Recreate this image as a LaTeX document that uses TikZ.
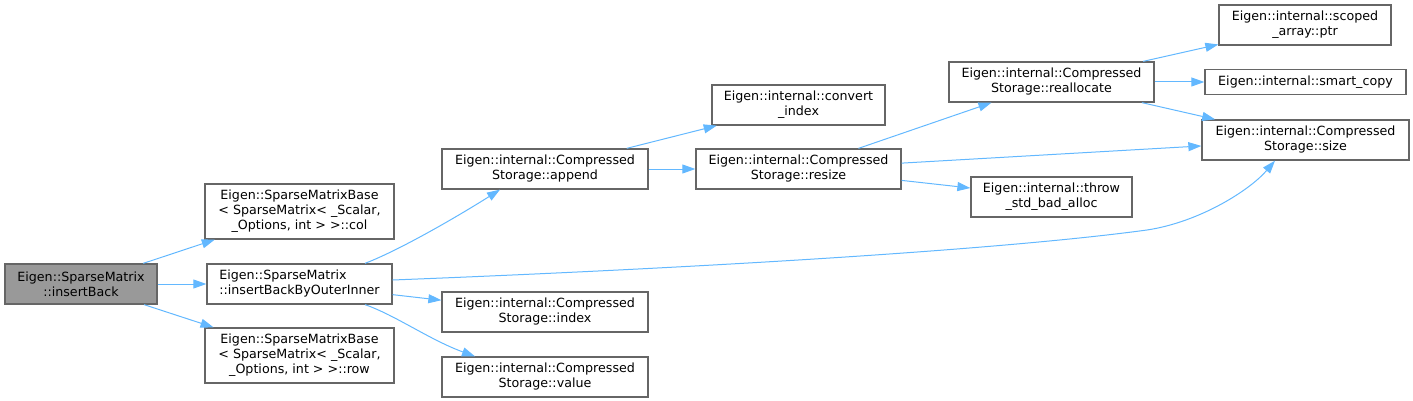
\documentclass[tikz,border=0pt]{standalone}
\usepackage{fontspec}
\setmainfont{DejaVu Sans}
\usepackage{xcolor}
\usetikzlibrary{arrows.meta}

\definecolor{edgeblue}{HTML}{63B8FF}
\definecolor{boxgray}{HTML}{666666}
\definecolor{curfill}{HTML}{999999}

\begin{document}
\begin{tikzpicture}[x=1pt,y=-1pt,->,>={Stealth[length=13pt,width=9pt,inset=0pt]},
draw=edgeblue,line width=1pt]
\tikzstyle{fn}=[draw=boxgray,fill=white,text=black,rectangle,inner sep=0pt,
line width=1.3pt,align=center,font=\fontsize{12.67}{15}\selectfont]

\useasboundingbox (0,0) rectangle (1413,401);

\node[fn,fill=curfill,minimum width=152pt,minimum height=40pt] (ib)   at (81,284)     {Eigen::SparseMatrix\\::insertBack};
\node[fn,minimum width=189pt,minimum height=55pt]  (col)    at (299.5,211.5) {Eigen::SparseMatrixBase\\< SparseMatrix< \_Scalar,\\\_Options, int > >::col};
\node[fn,minimum width=185pt,minimum height=40pt,align=left] (iboi) at (299.5,284) {Eigen::SparseMatrix\\::insertBackByOuterInner};
\node[fn,minimum width=189pt,minimum height=55pt]  (row)    at (299.5,355.5) {Eigen::SparseMatrixBase\\< SparseMatrix< \_Scalar,\\\_Options, int > >::row};
\node[fn,minimum width=206pt,minimum height=40pt]  (append) at (545,169)     {Eigen::internal::Compressed\\Storage::append};
\node[fn,minimum width=206pt,minimum height=40pt]  (index)  at (545,312)     {Eigen::internal::Compressed\\Storage::index};
\node[fn,minimum width=206pt,minimum height=40pt]  (value)  at (545,377)     {Eigen::internal::Compressed\\Storage::value};
\node[fn,minimum width=173pt,minimum height=40pt]  (conv)   at (798.5,105)   {Eigen::internal::convert\\\_index};
\node[fn,minimum width=205pt,minimum height=40pt]  (resize) at (798.5,169)   {Eigen::internal::Compressed\\Storage::resize};
\node[fn,minimum width=205pt,minimum height=40pt]  (realloc) at (1051.5,82)  {Eigen::internal::Compressed\\Storage::reallocate};
\node[fn,minimum width=161pt,minimum height=40pt]  (throw)  at (1051.5,197)  {Eigen::internal::throw\\\_std\_bad\_alloc};
\node[fn,minimum width=172pt,minimum height=40pt]  (ptr)    at (1305,25)     {Eigen::internal::scoped\\\_array::ptr};
\node[fn,minimum width=201pt,minimum height=25pt]  (smart)  at (1305.5,82)   {Eigen::internal::smart\_copy};
\node[fn,minimum width=207pt,minimum height=40pt]  (size)   at (1305.5,140)  {Eigen::internal::Compressed\\Storage::size};

\path
(ib)      edge (col)
(ib)      edge (iboi)
(ib)      edge (row)
(iboi)    edge (index)
(append)  edge (conv)
(append)  edge (resize)
(resize)  edge (realloc)
(resize)  edge (size)
(resize)  edge (throw)
(realloc) edge (ptr)
(realloc) edge (smart)
(realloc) edge (size);

% bent calls out of insertBackByOuterInner
\draw ([xshift=65.5pt]iboi.north) .. controls (400,250) and (460,215) .. ([xshift=-45pt]append.south);
\draw ([xshift=65.5pt]iboi.south) .. controls (395,315) and (430,340) .. ([xshift=-70pt]value.north);
\draw ([yshift=4pt]iboi.east) .. controls (700,268) and (1000,250) .. (1147,230)
  .. controls (1200,222) and (1250,190) .. ([xshift=-30.5pt]size.south);

\end{tikzpicture}
\end{document}
